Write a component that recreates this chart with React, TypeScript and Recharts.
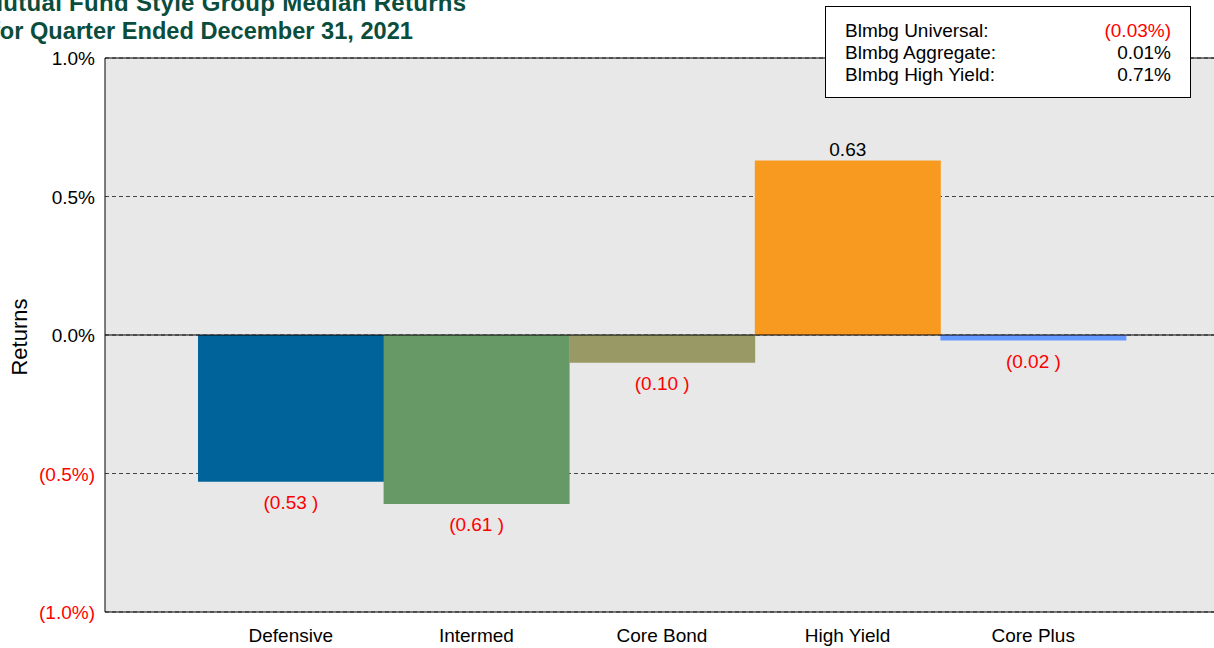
import React from "react";
import {
  BarChart,
  Bar,
  XAxis,
  YAxis,
  CartesianGrid,
  ReferenceLine,
  Cell,
  LabelList,
} from "recharts";

const categories = ["Defensive", "Intermed", "Core Bond", "High Yield", "Core Plus"];
const medianReturns = [-0.53, -0.61, -0.1, 0.63, -0.02];
const yTicks = [-1, -0.5, 0, 0.5, 1];
const indexNames = ["Blmbg Universal:", "Blmbg Aggregate:", "Blmbg High Yield:"];
const indexReturns = [-0.03, 0.01, 0.71];

const barColors = ["#00649a", "#669966", "#999966", "#f89a20", "#6699ff"];

const data = categories.map((name, i) => ({ name, value: medianReturns[i] }));

const FONT = "Arial, 'Liberation Sans', sans-serif";

const fmtPct = (v: number) =>
  v < 0 ? `(${Math.abs(v).toFixed(1)}%)` : `${v.toFixed(1)}%`;
const fmtIdx = (v: number) =>
  v < 0 ? `(${Math.abs(v).toFixed(2)}%)` : `${v.toFixed(2)}%`;

const YTick = (props: any) => {
  const { y, payload } = props;
  const v = payload.value as number;
  return (
    <text
      x={95}
      y={y}
      dy={7}
      textAnchor="end"
      fontSize={19}
      fontFamily={FONT}
      fill={v < 0 ? "#ff0000" : "#000"}
    >
      {fmtPct(v)}
    </text>
  );
};

const XTick = (props: any) => {
  const { x, y, payload } = props;
  return (
    <text x={x} y={y} dy={22} textAnchor="middle" fontSize={19} fontFamily={FONT} fill="#000">
      {payload.value}
    </text>
  );
};

const ValueLabel = (props: any) => {
  const { x, y, width, height, value } = props;
  const v = value as number;
  const cx = x + width / 2;
  if (v >= 0) {
    return (
      <text x={cx} y={y - 4} textAnchor="middle" fontSize={19} fontFamily={FONT} fill="#000">
        {v.toFixed(2)}
      </text>
    );
  }
  const bottom = Math.max(y, y + height);
  return (
    <text x={cx} y={bottom + 27} textAnchor="middle" fontSize={19} fontFamily={FONT} fill="#ff0000">
      {`(${Math.abs(v).toFixed(2)} )`}
    </text>
  );
};

const titleStyle: React.CSSProperties = {
  position: "absolute",
  color: "#0b4d3c",
  fontWeight: "bold",
  fontSize: 24,
  lineHeight: "28px",
  whiteSpace: "nowrap",
};

export default function App() {
  return (
    <div
      style={{
        position: "absolute",
        left: 0,
        top: 0,
        width: 1214,
        height: 648,
        overflow: "hidden",
        background: "#fff",
        fontFamily: FONT,
      }}
    >
      <div style={{ ...titleStyle, left: -17, top: -11, letterSpacing: 0.3 }}>
        Mutual Fund Style Group Median Returns
      </div>
      <div style={{ ...titleStyle, left: -8, top: 17, fontSize: 23.6 }}>
        for Quarter Ended December 31, 2021
      </div>

      <div style={{ position: "absolute", left: 0, top: 0 }}>
        <BarChart
          width={1230}
          height={648}
          data={data}
          barCategoryGap={0}
          margin={{ top: 58, right: 11, bottom: 6, left: 0 }}
        >
          <CartesianGrid
            vertical={false}
            fill="#e8e8e8"
            stroke="#444"
            strokeDasharray="4 3"
          />
          <XAxis
            dataKey="name"
            height={30}
            padding={{ left: 93, right: 93 }}
            axisLine={false}
            tickLine={false}
            tick={<XTick />}
            interval={0}
          />
          <YAxis
            width={105}
            domain={[-1, 1]}
            ticks={yTicks}
            tickLine={false}
            axisLine={{ stroke: "#000" }}
            tick={<YTick />}
            allowDataOverflow
          />
          <ReferenceLine y={1} stroke="#000" />
          <ReferenceLine y={-1} stroke="#000" />
          <Bar dataKey="value" isAnimationActive={false}>
            {data.map((d, i) => (
              <Cell key={d.name} fill={barColors[i]} />
            ))}
            <LabelList dataKey="value" content={<ValueLabel />} />
          </Bar>
          <ReferenceLine y={0} stroke="#000" />
        </BarChart>
      </div>

      <div
        style={{
          position: "absolute",
          left: 20,
          top: 337,
          transform: "translate(-50%, -50%) rotate(-90deg)",
          fontSize: 22,
          color: "#000",
          whiteSpace: "nowrap",
        }}
      >
        Returns
      </div>

      <div
        style={{
          position: "absolute",
          left: 825,
          top: 6,
          width: 366,
          height: 92,
          boxSizing: "border-box",
          border: "1px solid #000",
          background: "#fff",
          padding: "13px 19px 0 19px",
          fontSize: 19,
          lineHeight: "22px",
        }}
      >
        {indexNames.map((n, i) => (
          <div key={n} style={{ display: "flex", justifyContent: "space-between" }}>
            <span>{n}</span>
            <span style={{ color: indexReturns[i] < 0 ? "#ff0000" : "#000" }}>
              {fmtIdx(indexReturns[i])}
            </span>
          </div>
        ))}
      </div>
    </div>
  );
}
